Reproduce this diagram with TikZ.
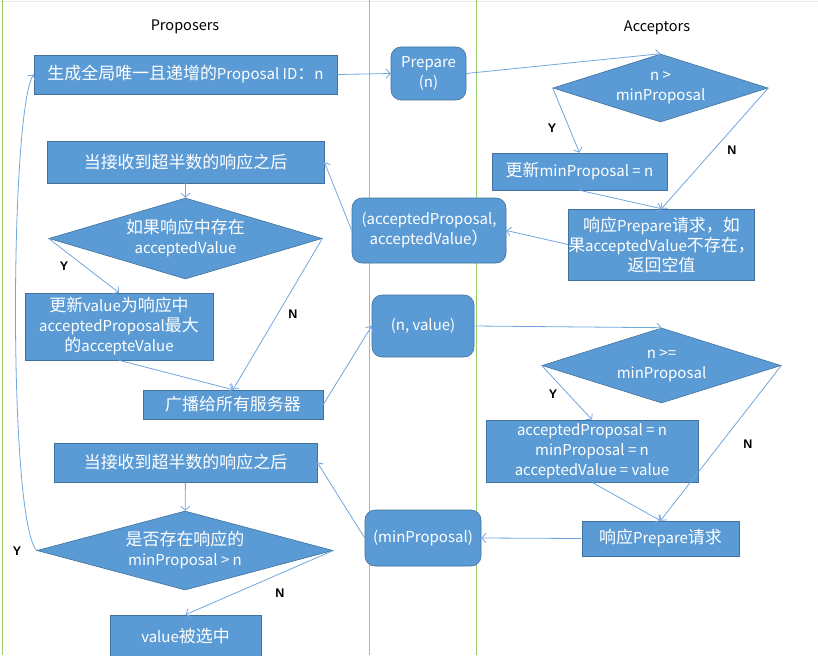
\documentclass[tikz,border=0pt]{standalone}
\usepackage{fontspec}
\newfontfamily\cjk{Noto Sans CJK SC}
\newfontfamily\zhfont[Scale=1.13]{Noto Sans CJK SC}
\newfontfamily\lbl{Liberation Sans}
\usetikzlibrary{shapes.geometric,arrows.meta}

% han characters come out a bit larger than the latin ones
\XeTeXinterchartokenstate=1
\newXeTeXintercharclass\zhclass
\newcount\zhchar
\zhchar="3000
\loop \XeTeXcharclass\zhchar=\zhclass \ifnum\zhchar<"303F \advance\zhchar 1 \repeat
\zhchar="4E00
\loop \XeTeXcharclass\zhchar=\zhclass \ifnum\zhchar<"9FFF \advance\zhchar 1 \repeat
\zhchar="FF00
\loop \XeTeXcharclass\zhchar=\zhclass \ifnum\zhchar<"FFEF \advance\zhchar 1 \repeat
\XeTeXinterchartoks 0 \zhclass = {\zhfont}
\XeTeXinterchartoks 4095 \zhclass = {\zhfont}
\XeTeXinterchartoks \zhclass 0 = {\cjk}
\XeTeXinterchartoks \zhclass 4095 = {\cjk}

\definecolor{boxblue}{RGB}{91,155,213}
\definecolor{boxedge}{RGB}{65,113,156}
\definecolor{lineblue}{RGB}{112,166,222}
\definecolor{lanegreen}{RGB}{150,205,105}

\tikzset{
  stepbox/.style={rectangle, fill=boxblue, draw=boxedge, line width=0.6pt, text=white,
    inner sep=0pt, align=center, font=\cjk\fontsize{15}{20}\selectfont},
  msgbox/.style={stepbox, rounded corners=10pt},
  test/.style={stepbox, diamond, aspect=3},
  flow/.style={draw=lineblue, line width=0.8pt, -{Straight Barb[length=4pt,width=9pt]}},
  yn/.style={font=\lbl\bfseries\fontsize{12.5}{14}\selectfont, text=black},
  title/.style={font=\cjk\fontsize{14.5}{17}\selectfont, text=black},
}

\begin{document}
\begin{tikzpicture}[x=1pt,y=-1pt]
  \useasboundingbox (0,0) rectangle (818,655);

  % lanes
  \draw[color={rgb,255:red,225;green,238;blue,225}] (0,1) -- (818,1);
  \draw[lanegreen, line width=1pt] (2,0) -- (2,655);
  \draw[lanegreen, line width=1pt] (369,0) -- (369,655);
  \draw[lanegreen, line width=1pt] (476,0) -- (476,655);

  \node[title] (proposers) at (185,27) {Proposers};
  \node[title] (acceptors) at (657,28) {Acceptors};

  % proposers, prepare phase
  \node[stepbox, minimum width=303, minimum height=39] (gen) at (185.5,74.5) {生成全局唯一且递增的Proposal ID：n};
  \node[stepbox, minimum width=277, minimum height=42] (recv1) at (185.5,162) {当接收到超半数的响应之后};
  \node[test, minimum width=273, minimum height=81] (dec2) at (185.5,238.5) {如果响应中存在\\acceptedValue};
  \node[stepbox, minimum width=188, minimum height=67] (upd2) at (119,326.5) {更新value为响应中\\acceptedProposal最大\\的accepteValue};
  \node[stepbox, minimum width=180, minimum height=29] (bcast) at (233,404.5) {广播给所有服务器};

  % proposers, accept phase
  \node[stepbox, minimum width=263, minimum height=39] (recv2) at (185.5,462.5) {当接收到超半数的响应之后};
  \node[test, minimum width=296, minimum height=79] (dec4) at (185,550.5) {是否存在响应的\\minProposal > n};
  \node[stepbox, minimum width=151, minimum height=42] (chosen) at (185.5,636) {value被选中};

  % messages
  \node[msgbox, minimum width=75, minimum height=53] (prep) at (428.5,73.5) {Prepare\\(n)};
  \node[msgbox, minimum width=154, minimum height=65] (msg2) at (429,230.5) {(acceptedProposal,\\acceptedValue）};
  \node[msgbox, minimum width=102, minimum height=62] (msg3) at (423,326) {(n, value)};
  \node[msgbox, minimum width=116, minimum height=56] (msg4) at (423,538) {(minProposal)};

  % acceptors
  \node[test, minimum width=215, minimum height=68] (dec1) at (660.5,88) {n >\\minProposal};
  \node[stepbox, minimum width=175, minimum height=37] (upd1) at (579.5,171.5) {更新minProposal = n};
  \node[stepbox, minimum width=183, minimum height=71] (resp1) at (661.5,244.5) {响应Prepare请求，如\\果acceptedValue不存在，\\返回空值};
  \node[test, minimum width=239, minimum height=75] (dec3) at (661.5,365.5) {n >=\\minProposal};
  \node[stepbox, minimum width=212, minimum height=62] (upd3) at (592,451) {acceptedProposal = n\\minProposal = n\\acceptedValue = value};
  \node[stepbox, minimum width=157, minimum height=35] (resp2) at (660.5,538.5) {响应Prepare请求};

  \draw[flow] (gen.east) -- (prep.west);
  \draw[flow] (prep.east) -- (dec1.north);
  \draw[flow] (dec1.west) -- (upd1.north);
  \draw[flow] (dec1.east) -- (resp1.north);
  \draw[flow] (upd1.south) -- (resp1.north);
  \draw[flow] (resp1.west) -- (msg2.east);
  \draw[flow] (msg2.west) -- (recv1.east);
  \draw[flow] (recv1) -- (dec2);
  \draw[flow] (dec2.west) -- (upd2.north);
  \draw[flow] (dec2.east) -- (bcast.north);
  \draw[flow] (upd2.south) -- (bcast.north);
  \draw[flow] (bcast.east) -- (msg3.west);
  \draw[flow] (msg3.east) -- (dec3.north);
  \draw[flow] (dec3.west) -- (upd3.north);
  \draw[flow] (dec3.east) -- (resp2.north);
  \draw[flow] (upd3.south) -- (resp2.north);
  \draw[flow] (resp2.west) -- (msg4.east);
  \draw[flow] (msg4.west) -- (recv2.east);
  \draw[flow] (recv2) -- (dec4);
  \draw[flow] (dec4.east) -- (chosen.north);
  \draw[flow] (dec4.west) .. controls (8,520) and (10,110) .. (gen.west);

  \node[yn] (y1) at (552,128) {Y};
  \node[yn] (n1) at (732,150) {N};
  \node[yn] (y2) at (64,266) {Y};
  \node[yn] (n2) at (293,314) {N};
  \node[yn] (y3) at (553,394) {Y};
  \node[yn] (n3) at (748,444) {N};
  \node[yn] (y4) at (17,551) {Y};
  \node[yn] (n4) at (280,593) {N};
\end{tikzpicture}
\end{document}
